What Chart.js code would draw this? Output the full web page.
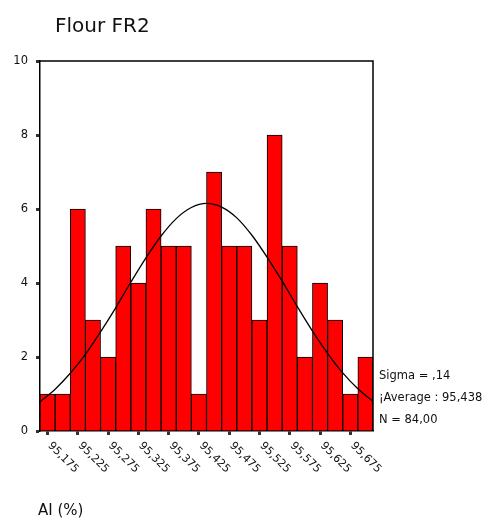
<!DOCTYPE html>
<html>
<head>
<meta charset="utf-8">
<script src="https://cdn.jsdelivr.net/npm/chart.js@4/dist/chart.umd.min.js"></script>
<style>
    html, body { margin: 0; padding: 0; background: #fff; }
    #wrap { width: 488px; height: 520px; }
</style>
</head>
<body>
<div id="wrap"><canvas id="chart" width="488" height="520"></canvas></div>
<script>
/* ---------- Données ---------- */
const chartTitle = "Flour FR2";
const axisTitle = "AI (%)";
const binCenters = [95.175, 95.2, 95.225, 95.25, 95.275, 95.3, 95.325, 95.35, 95.375, 95.4, 95.425,
                    95.45, 95.475, 95.5, 95.525, 95.55, 95.575, 95.6, 95.625, 95.65, 95.675, 95.7];
const counts = [1, 1, 6, 3, 2, 5, 4, 6, 5, 5, 1, 7, 5, 5, 3, 8, 5, 2, 4, 3, 1, 2];
const tickValues = [95.175, 95.225, 95.275, 95.325, 95.375, 95.425, 95.475, 95.525, 95.575, 95.625, 95.675];
const tickLabels = ["95,175", "95,225", "95,275", "95,325", "95,375", "95,425",
                    "95,475", "95,525", "95,575", "95,625", "95,675"];
const curveX = [95.1625, 95.1875, 95.2125, 95.2375, 95.2625, 95.2875, 95.3125, 95.3375, 95.3625, 95.3875, 95.4125, 95.4375,
                95.4625, 95.4875, 95.5125, 95.5375, 95.5625, 95.5875, 95.6125, 95.6375, 95.6625, 95.6875, 95.7125];
const curveY = [0.79, 1.13, 1.56, 2.07, 2.68, 3.33, 4.02, 4.68, 5.27, 5.74, 6.04, 6.15,
                6.05, 5.76, 5.29, 4.70, 4.05, 3.36, 2.70, 2.10, 1.57, 1.14, 0.80];
const statLines = ["Sigma = ,14", "¡Average : 95,438", "N = 84,00"];

const FONT = "'DejaVu Sans', Verdana, sans-serif";

/* ---------- Cadre, étiquettes inclinées et textes ---------- */
const decorPlugin = {
    id: "decor",
    afterDraw(chart) {
        const ctx = chart.ctx;
        const area = chart.chartArea;
        const x = chart.scales.x;

        ctx.save();
        ctx.strokeStyle = "#000";
        ctx.lineWidth = 1.5;
        ctx.beginPath();
        ctx.moveTo(area.left, area.top);
        ctx.lineTo(area.right, area.top);
        ctx.lineTo(area.right, area.bottom);
        ctx.stroke();

        ctx.fillStyle = "#111";
        ctx.font = "11px " + FONT;
        ctx.textAlign = "left";
        ctx.textBaseline = "middle";
        tickValues.forEach((v, i) => {
            const px = x.getPixelForValue(v);
            ctx.save();
            ctx.translate(px + 2, area.bottom + 13);
            ctx.rotate(Math.PI / 4);
            ctx.fillText(tickLabels[i], 0, 0);
            ctx.restore();
        });

        ctx.font = "20px " + FONT;
        ctx.fillText(chartTitle, 55, 27);

        ctx.font = "15px " + FONT;
        ctx.fillText(axisTitle, 38, 511);

        ctx.font = "11.5px " + FONT;
        statLines.forEach((t, i) => ctx.fillText(t, 379, 376 + i * 22));
        ctx.restore();
    }
};

new Chart(document.getElementById("chart"), {
    data: {
        datasets: [
            {
                type: "line",
                data: curveX.map((v, i) => ({ x: v, y: curveY[i] })),
                borderColor: "#000",
                borderWidth: 1.3,
                pointRadius: 0,
                cubicInterpolationMode: "monotone",
                order: 0
            },
            {
                type: "bar",
                data: binCenters.map((v, i) => ({ x: v, y: counts[i] })),
                backgroundColor: "#ff0000",
                borderColor: "#000",
                borderWidth: 1,
                barPercentage: 1,
                categoryPercentage: 1,
                order: 1
            }
        ]
    },
    options: {
        responsive: false,
        animation: false,
        layout: { padding: { top: 61, right: 115, left: 0, bottom: 0 } },
        plugins: { legend: { display: false }, tooltip: { enabled: false } },
        scales: {
            x: {
                type: "linear",
                offset: false,
                min: 95.1625,
                max: 95.7125,
                afterBuildTicks: s => { s.ticks = tickValues.map(v => ({ value: v })); },
                afterFit: s => { s.height = 89; },
                ticks: { display: false },
                grid: { offset: false, drawOnChartArea: false, tickLength: 4, tickWidth: 3, tickColor: "#333" },
                border: { color: "#000", width: 1.5 }
            },
            y: {
                min: 0,
                max: 10,
                afterFit: s => { s.width = 40; },
                ticks: { stepSize: 2, color: "#111", font: { family: FONT, size: 11.5 }, padding: 8 },
                grid: { drawOnChartArea: false, tickLength: 4, tickWidth: 3, tickColor: "#333" },
                border: { color: "#000", width: 1.5 }
            }
        }
    },
    plugins: [decorPlugin]
});
</script>
</body>
</html>
